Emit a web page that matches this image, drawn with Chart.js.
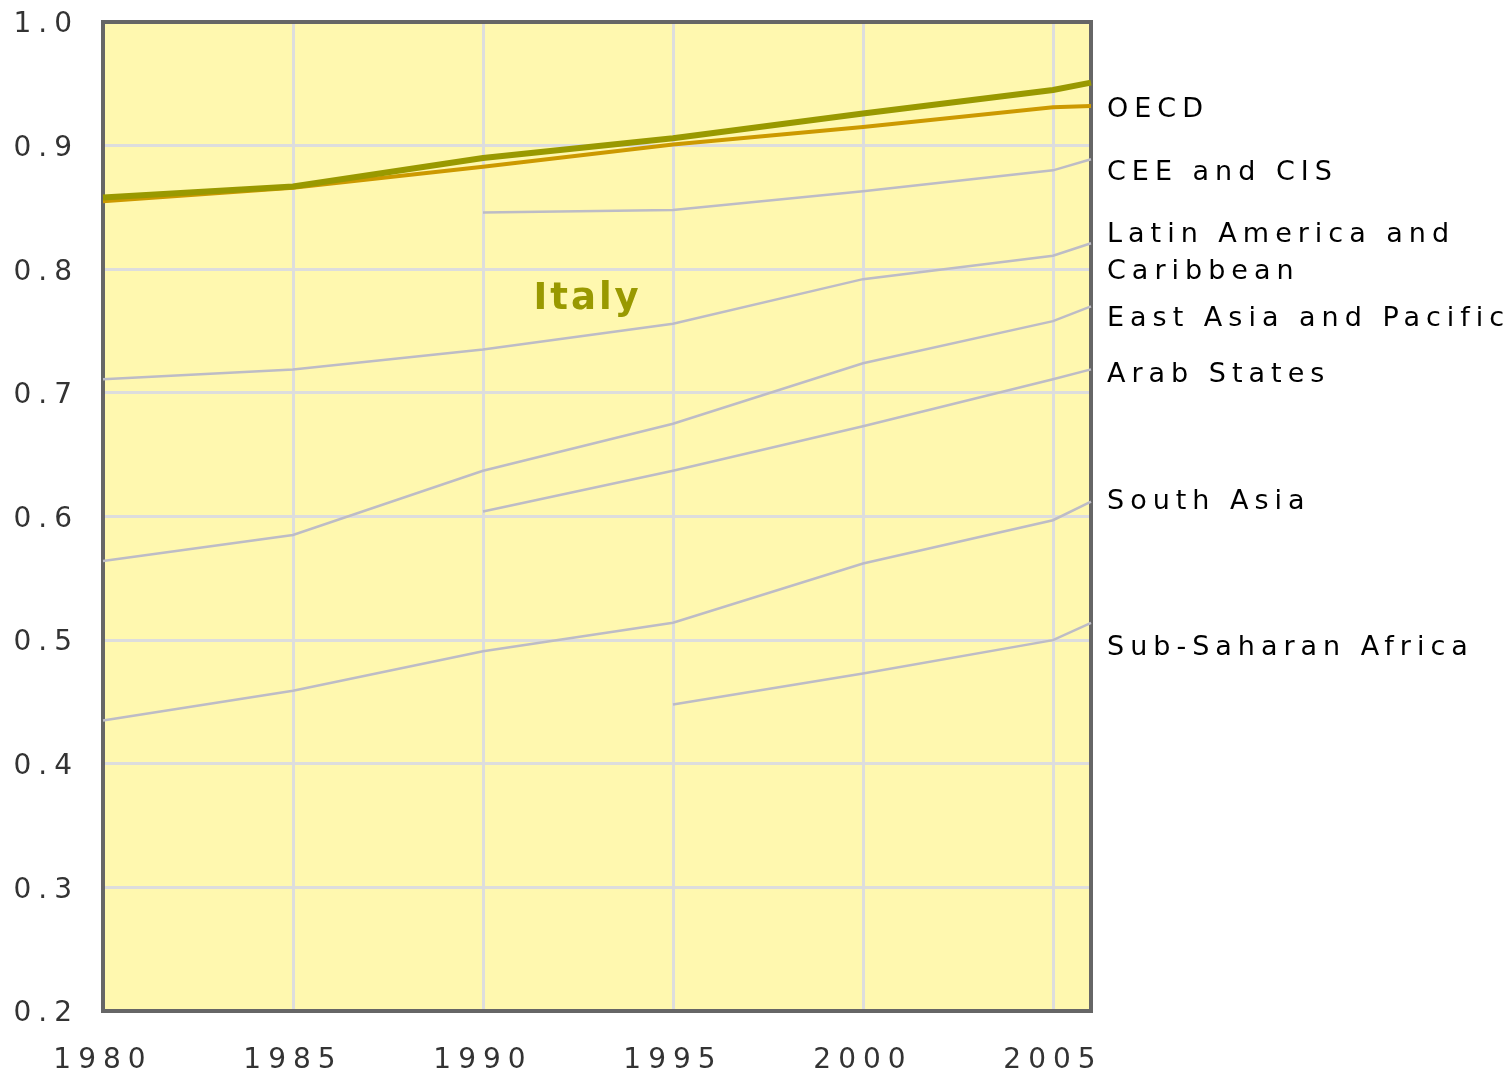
<!DOCTYPE html>
<html>
<head>
<meta charset="utf-8">
<title>Human Development Index trends - Italy</title>
<script src="https://cdn.jsdelivr.net/npm/chart.js@4.4.1/dist/chart.umd.min.js"></script>
<style>
  html, body { margin: 0; padding: 0; background: #fff; }
  canvas { display: block; }
</style>
</head>
<body>
<canvas id="hdi-chart" width="1511" height="1073"></canvas>
<script>
// Data
const years = [1980, 1985, 1990, 1995, 2000, 2005, 2006];
const italy     = [0.858, 0.867, 0.890, 0.906, 0.926, 0.945, 0.951];
const oecd      = [0.855, 0.866, 0.883, 0.901, 0.915, 0.931, 0.932];
const ceeCis    = [null, null, 0.846, 0.848, 0.863, 0.880, 0.889];
const latinAm   = [0.711, 0.719, 0.735, 0.756, 0.792, 0.811, 0.821];
const eastAsia  = [0.564, 0.585, 0.637, 0.675, 0.724, 0.758, 0.770];
const arab      = [null, null, 0.604, 0.637, 0.673, 0.711, 0.719];
const southAsia = [0.435, 0.459, 0.491, 0.514, 0.562, 0.597, 0.612];
const ssAfrica  = [null, null, null, 0.448, 0.473, 0.500, 0.514];

const xTicks = [1980, 1985, 1990, 1995, 2000, 2005];
const yTicks = [0.2, 0.3, 0.4, 0.5, 0.6, 0.7, 0.8, 0.9, 1.0];

// region names shown at the right, with the value they sit at
const regionNames  = [['OECD'], ['CEE and CIS'], ['Latin America and', 'Caribbean'],
                      ['East Asia and Pacific'], ['Arab States'], ['South Asia'], ['Sub-Saharan Africa']];
const regionLabelY = [0.931, 0.880, 0.8155, 0.762, 0.717, 0.614, 0.496];

const countryName = 'Italy';
const countryLabelAt = [1992.7, 0.778];

const toPoints = vals => years.map((yr, i) => ({ x: yr, y: vals[i] }));

const greySeries = [ceeCis, latinAm, eastAsia, arab, southAsia, ssAfrica];

const datasets = [
    { label: 'Italy', data: toPoints(italy), borderColor: '#999900', borderWidth: 6 },
    { label: 'OECD', data: toPoints(oecd), borderColor: '#cc9900', borderWidth: 4 }
].concat(greySeries.map((vals, i) => ({
    label: 'region' + i, data: toPoints(vals), borderColor: '#bdbcc6', borderWidth: 2.5
})));

datasets.forEach(ds => {
    ds.tension = 0;
    ds.pointRadius = 0;
    ds.fill = false;
    ds.spanGaps = false;
    ds.clip = 6;
});

const chartPlugin = {
    id: 'hdiDecor',
    beforeLayout(chart) {
        chart.ctx.letterSpacing = '7px';
    },
    beforeDraw(chart) {
        const { ctx, chartArea: a } = chart;
        ctx.letterSpacing = '7px';
        ctx.save();
        ctx.fillStyle = '#fff8af';
        ctx.fillRect(a.left, a.top, a.right - a.left, a.bottom - a.top);
        ctx.restore();
    },
    beforeDatasetsDraw(chart) {
        const { ctx, chartArea: a } = chart;
        ctx.save();
        ctx.strokeStyle = '#666666';
        ctx.lineWidth = 4;
        ctx.strokeRect(a.left, a.top, a.right - a.left, a.bottom - a.top);
        ctx.restore();
    },
    afterDraw(chart) {
        const { ctx, chartArea: a } = chart;
        const xs = chart.scales.x, ys = chart.scales.y;
        ctx.save();
        // region labels on the right
        ctx.font = '27px "DejaVu Sans"';
        ctx.letterSpacing = '6px';
        ctx.fillStyle = '#000000';
        ctx.textAlign = 'left';
        ctx.textBaseline = 'alphabetic';
        regionNames.forEach((lines, i) => {
            const cy = ys.getPixelForValue(regionLabelY[i]);
            const start = cy - (lines.length - 1) * 37 / 2;
            lines.forEach((txt, j) => {
                ctx.fillText(txt, a.right + 16, start + j * 37 + 10);
            });
        });
        // country label inside the plot
        ctx.font = 'bold 37px "DejaVu Sans"';
        ctx.letterSpacing = '3px';
        ctx.fillStyle = '#999900';
        ctx.textAlign = 'center';
        ctx.fillText(countryName, xs.getPixelForValue(countryLabelAt[0]) + 2,
                     ys.getPixelForValue(countryLabelAt[1]) + 13);
        ctx.restore();
    }
};

const ctx = document.getElementById('hdi-chart').getContext('2d');
new Chart(ctx, {
    type: 'line',
    data: { datasets: datasets },
    options: {
        responsive: false,
        animation: false,
        layout: { padding: { top: 22, right: 420, left: 0, bottom: 0 } },
        plugins: { legend: { display: false }, tooltip: { enabled: false } },
        scales: {
            x: {
                type: 'linear',
                min: 1980,
                max: 2006,
                afterBuildTicks: axis => { axis.ticks = xTicks.map(v => ({ value: v })); },
                afterFit: axis => {
                    axis.height = 62;
                    axis.paddingLeft = 0;
                    axis.paddingRight = 0;
                },
                grid: { color: '#dddddd', lineWidth: 3, drawTicks: false },
                border: { display: false },
                ticks: {
                    padding: 33,
                    color: '#333333',
                    font: { family: 'DejaVu Sans', size: 28 },
                    maxRotation: 0,
                    callback: v => String(v)
                }
            },
            y: {
                min: 0.2,
                max: 1.0,
                afterBuildTicks: axis => { axis.ticks = yTicks.map(v => ({ value: v })); },
                afterFit: axis => {
                    axis.width = 103;
                    axis.paddingTop = 0;
                    axis.paddingBottom = 0;
                },
                grid: { color: '#dddddd', lineWidth: 3, drawTicks: false },
                border: { display: false },
                ticks: {
                    padding: 24,
                    labelOffset: 3,
                    color: '#333333',
                    font: { family: 'DejaVu Sans', size: 28 },
                    callback: v => v.toFixed(1)
                }
            }
        }
    },
    plugins: [chartPlugin]
});
</script>
</body>
</html>
